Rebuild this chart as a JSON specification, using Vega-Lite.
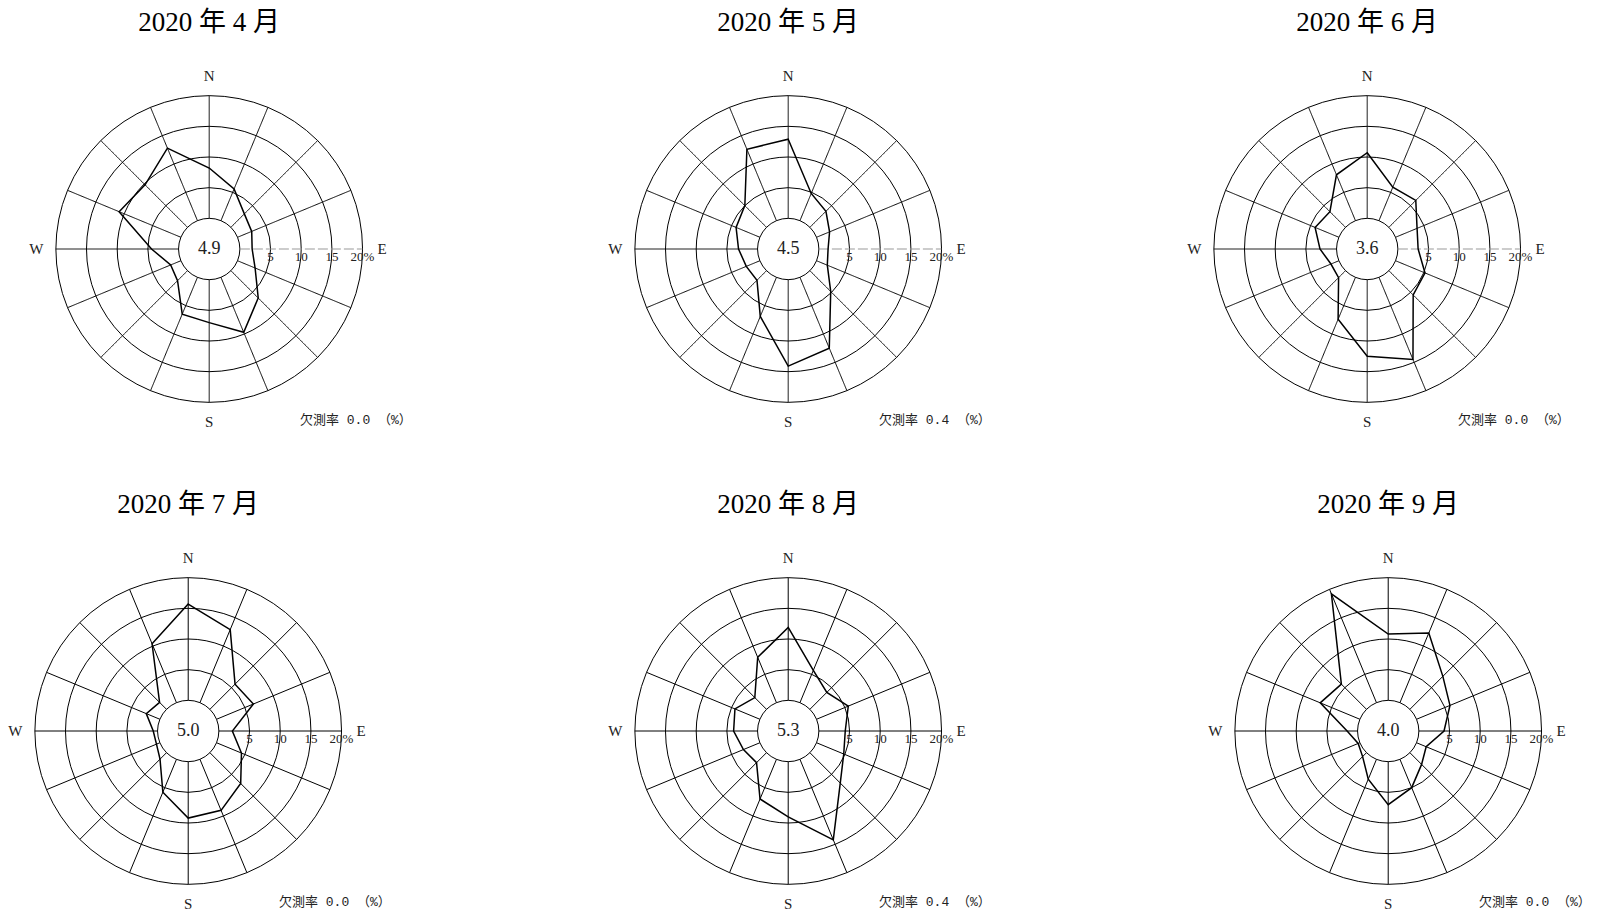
{
  "$schema": "https://vega.github.io/schema/vega-lite/v6.json",
  "padding": {"left": 4, "top": 9, "right": 5, "bottom": 5},
  "background": "white",
  "datasets": {
    "wind": [
      {"m": 4, "d": 0, "v": 8.2}, {"m": 4, "d": 1, "v": 5.6}, {"m": 4, "d": 2, "v": 3.1}, {"m": 4, "d": 3, "v": 2.5},
      {"m": 4, "d": 4, "v": 2.0}, {"m": 4, "d": 5, "v": 3.1}, {"m": 4, "d": 6, "v": 6.3}, {"m": 4, "d": 7, "v": 9.7},
      {"m": 4, "d": 8, "v": 7.0}, {"m": 4, "d": 9, "v": 6.5}, {"m": 4, "d": 10, "v": 2.3}, {"m": 4, "d": 11, "v": 1.8},
      {"m": 4, "d": 12, "v": 4.4}, {"m": 4, "d": 13, "v": 10.9}, {"m": 4, "d": 14, "v": 9.8}, {"m": 4, "d": 15, "v": 12.8},
      {"m": 5, "d": 0, "v": 12.9}, {"m": 5, "d": 1, "v": 4.8}, {"m": 5, "d": 2, "v": 3.7}, {"m": 5, "d": 3, "v": 2.3},
      {"m": 5, "d": 4, "v": 1.5}, {"m": 5, "d": 5, "v": 1.9}, {"m": 5, "d": 6, "v": 4.8}, {"m": 5, "d": 7, "v": 12.5},
      {"m": 5, "d": 8, "v": 14.1}, {"m": 5, "d": 9, "v": 6.9}, {"m": 5, "d": 10, "v": 2.2}, {"m": 5, "d": 11, "v": 2.4},
      {"m": 5, "d": 12, "v": 3.1}, {"m": 5, "d": 13, "v": 4.2}, {"m": 5, "d": 14, "v": 5.0}, {"m": 5, "d": 15, "v": 12.6},
      {"m": 6, "d": 0, "v": 10.7}, {"m": 6, "d": 1, "v": 5.9}, {"m": 6, "d": 2, "v": 6.2}, {"m": 6, "d": 3, "v": 3.8},
      {"m": 6, "d": 4, "v": 3.3}, {"m": 6, "d": 5, "v": 5.2}, {"m": 6, "d": 6, "v": 5.6}, {"m": 6, "d": 7, "v": 14.5},
      {"m": 6, "d": 8, "v": 12.5}, {"m": 6, "d": 9, "v": 7.4}, {"m": 6, "d": 10, "v": 1.6}, {"m": 6, "d": 11, "v": 1.4},
      {"m": 6, "d": 12, "v": 2.7}, {"m": 6, "d": 13, "v": 4.2}, {"m": 6, "d": 14, "v": 3.6}, {"m": 6, "d": 15, "v": 8.1},
      {"m": 7, "d": 0, "v": 15.7}, {"m": 7, "d": 1, "v": 12.9}, {"m": 7, "d": 2, "v": 5.8}, {"m": 7, "d": 3, "v": 6.5},
      {"m": 7, "d": 4, "v": 2.2}, {"m": 7, "d": 5, "v": 4.4}, {"m": 7, "d": 6, "v": 7.1}, {"m": 7, "d": 7, "v": 9.0},
      {"m": 7, "d": 8, "v": 9.2}, {"m": 7, "d": 9, "v": 5.8}, {"m": 7, "d": 10, "v": 1.5}, {"m": 7, "d": 11, "v": 0.6},
      {"m": 7, "d": 12, "v": 0.7}, {"m": 7, "d": 13, "v": 2.4}, {"m": 7, "d": 14, "v": 1.6}, {"m": 7, "d": 15, "v": 10.4},
      {"m": 8, "d": 0, "v": 11.9}, {"m": 8, "d": 1, "v": 5.7}, {"m": 8, "d": 2, "v": 3.9}, {"m": 8, "d": 3, "v": 5.6},
      {"m": 8, "d": 4, "v": 4.3}, {"m": 8, "d": 5, "v": 4.8}, {"m": 8, "d": 6, "v": 7.0}, {"m": 8, "d": 7, "v": 14.2},
      {"m": 8, "d": 8, "v": 9.0}, {"m": 8, "d": 9, "v": 7.0}, {"m": 8, "d": 10, "v": 2.3}, {"m": 8, "d": 11, "v": 2.9},
      {"m": 8, "d": 12, "v": 3.9}, {"m": 8, "d": 13, "v": 4.4}, {"m": 8, "d": 14, "v": 2.7}, {"m": 8, "d": 15, "v": 8.0},
      {"m": 9, "d": 0, "v": 10.8}, {"m": 9, "d": 1, "v": 12.3}, {"m": 9, "d": 2, "v": 7.6}, {"m": 9, "d": 3, "v": 5.9},
      {"m": 9, "d": 4, "v": 4.1}, {"m": 9, "d": 5, "v": 1.7}, {"m": 9, "d": 6, "v": 2.7}, {"m": 9, "d": 7, "v": 5.0},
      {"m": 9, "d": 8, "v": 7.0}, {"m": 9, "d": 9, "v": 3.5}, {"m": 9, "d": 10, "v": 0.9}, {"m": 9, "d": 11, "v": 0.3},
      {"m": 9, "d": 12, "v": 1.7}, {"m": 9, "d": 13, "v": 7.0}, {"m": 9, "d": 14, "v": 5.8}, {"m": 9, "d": 15, "v": 19.2}
    ],
    "info": [
      {"m": 4, "calm": 4.9, "miss": 0.0},
      {"m": 5, "calm": 4.5, "miss": 0.4},
      {"m": 6, "calm": 3.6, "miss": 0.0},
      {"m": 7, "calm": 5.0, "miss": 0.0},
      {"m": 8, "calm": 5.3, "miss": 0.4},
      {"m": 9, "calm": 4.0, "miss": 0.0}
    ],
    "rings": [
      {"r": 5}, {"r": 10, "lab": "5"}, {"r": 15, "lab": "10"}, {"r": 20, "lab": "15"}, {"r": 25, "lab": "20%"}
    ],
    "compass": [
      {"lab": "N", "d": 0}, {"lab": "E", "d": 4}, {"lab": "S", "d": 8}, {"lab": "W", "d": 12}
    ]
  },
  "vconcat": [
    {
      "hconcat": [
        {
          "title": "2020 年 4 月",
          "width": 368, "height": 368,
          "layer": [
            {"data": {"name": "rings"}, "mark": {"type": "arc", "theta": 0, "theta2": 6.2832, "fillOpacity": 0, "stroke": "black", "strokeWidth": 1},
             "encoding": {"x": {"datum": 0, "type": "quantitative", "scale": {"domain": [-30, 30], "nice": false, "zero": false}, "axis": null},
                          "y": {"datum": 0, "type": "quantitative", "scale": {"domain": [-30, 30], "nice": false, "zero": false}, "axis": null},
                          "radius": {"field": "r", "type": "quantitative", "stack": null, "scale": {"type": "linear", "domain": [0, 30], "range": [0, 184]}}}},
            {"data": {"name": "wind"}, "transform": [{"filter": "datum.m == 4"}, {"calculate": "datum.d * PI / 8", "as": "a"}, {"calculate": "5 * sin(datum.a)", "as": "sx"}, {"calculate": "5 * cos(datum.a)", "as": "sy"}, {"calculate": "25 * sin(datum.a)", "as": "sx2"}, {"calculate": "25 * cos(datum.a)", "as": "sy2"}],
             "mark": {"type": "rule", "strokeWidth": 1},
             "encoding": {"x": {"field": "sx", "type": "quantitative"}, "y": {"field": "sy", "type": "quantitative"}, "x2": {"field": "sx2"}, "y2": {"field": "sy2"},
                          "color": {"condition": {"test": "datum.d == 4", "value": "#999"}, "value": "black"},
                          "strokeDash": {"condition": {"test": "datum.d == 4", "value": [10, 3]}, "value": [1, 0]}}},
            {"data": {"name": "wind"}, "transform": [{"filter": "datum.m == 4"}, {"calculate": "datum.d * PI / 8", "as": "a"}, {"calculate": "(datum.v + 5) * sin(datum.a)", "as": "x"}, {"calculate": "(datum.v + 5) * cos(datum.a)", "as": "y"}],
             "mark": {"type": "line", "interpolate": "linear-closed", "color": "black", "strokeWidth": 1.5},
             "encoding": {"x": {"field": "x", "type": "quantitative"}, "y": {"field": "y", "type": "quantitative"}, "order": {"field": "d"}}},
            {"data": {"name": "rings"}, "transform": [{"filter": "datum.lab != null"}], "mark": {"type": "text", "fontSize": 13, "dy": 8, "baseline": "middle"},
             "encoding": {"x": {"field": "r", "type": "quantitative"}, "y": {"datum": 0, "type": "quantitative"}, "text": {"field": "lab"}}},
            {"data": {"name": "compass"}, "transform": [{"calculate": "28.2 * sin(datum.d * PI / 8)", "as": "x"}, {"calculate": "28.2 * cos(datum.d * PI / 8)", "as": "y"}],
             "mark": {"type": "text", "fontSize": 15, "baseline": "middle"},
             "encoding": {"x": {"field": "x", "type": "quantitative"}, "y": {"field": "y", "type": "quantitative"}, "text": {"field": "lab"}}},
            {"data": {"name": "info"}, "transform": [{"filter": "datum.m == 4"}, {"calculate": "'欠測率 ' + format(datum.miss, '.1f') + ' （%）'", "as": "t"}],
             "layer": [
               {"mark": {"type": "text", "fontSize": 18, "baseline": "middle"},
                "encoding": {"x": {"datum": 0, "type": "quantitative"}, "y": {"datum": 0, "type": "quantitative"}, "text": {"field": "calm", "type": "quantitative", "format": ".1f"}}},
               {"mark": {"type": "text", "fontSize": 13, "font": "Liberation Mono, Noto Sans CJK JP", "align": "left", "baseline": "middle"},
                "encoding": {"x": {"datum": 14.8, "type": "quantitative"}, "y": {"datum": -27.8, "type": "quantitative"}, "text": {"field": "t"}}}
             ]}
          ]
        },
        {
          "title": "2020 年 5 月",
          "width": 368, "height": 368,
          "layer": [
            {"data": {"name": "rings"}, "mark": {"type": "arc", "theta": 0, "theta2": 6.2832, "fillOpacity": 0, "stroke": "black", "strokeWidth": 1},
             "encoding": {"x": {"datum": 0, "type": "quantitative", "scale": {"domain": [-30, 30], "nice": false, "zero": false}, "axis": null},
                          "y": {"datum": 0, "type": "quantitative", "scale": {"domain": [-30, 30], "nice": false, "zero": false}, "axis": null},
                          "radius": {"field": "r", "type": "quantitative", "stack": null, "scale": {"type": "linear", "domain": [0, 30], "range": [0, 184]}}}},
            {"data": {"name": "wind"}, "transform": [{"filter": "datum.m == 5"}, {"calculate": "datum.d * PI / 8", "as": "a"}, {"calculate": "5 * sin(datum.a)", "as": "sx"}, {"calculate": "5 * cos(datum.a)", "as": "sy"}, {"calculate": "25 * sin(datum.a)", "as": "sx2"}, {"calculate": "25 * cos(datum.a)", "as": "sy2"}],
             "mark": {"type": "rule", "strokeWidth": 1},
             "encoding": {"x": {"field": "sx", "type": "quantitative"}, "y": {"field": "sy", "type": "quantitative"}, "x2": {"field": "sx2"}, "y2": {"field": "sy2"},
                          "color": {"condition": {"test": "datum.d == 4", "value": "#999"}, "value": "black"},
                          "strokeDash": {"condition": {"test": "datum.d == 4", "value": [10, 3]}, "value": [1, 0]}}},
            {"data": {"name": "wind"}, "transform": [{"filter": "datum.m == 5"}, {"calculate": "datum.d * PI / 8", "as": "a"}, {"calculate": "(datum.v + 5) * sin(datum.a)", "as": "x"}, {"calculate": "(datum.v + 5) * cos(datum.a)", "as": "y"}],
             "mark": {"type": "line", "interpolate": "linear-closed", "color": "black", "strokeWidth": 1.5},
             "encoding": {"x": {"field": "x", "type": "quantitative"}, "y": {"field": "y", "type": "quantitative"}, "order": {"field": "d"}}},
            {"data": {"name": "rings"}, "transform": [{"filter": "datum.lab != null"}], "mark": {"type": "text", "fontSize": 13, "dy": 8, "baseline": "middle"},
             "encoding": {"x": {"field": "r", "type": "quantitative"}, "y": {"datum": 0, "type": "quantitative"}, "text": {"field": "lab"}}},
            {"data": {"name": "compass"}, "transform": [{"calculate": "28.2 * sin(datum.d * PI / 8)", "as": "x"}, {"calculate": "28.2 * cos(datum.d * PI / 8)", "as": "y"}],
             "mark": {"type": "text", "fontSize": 15, "baseline": "middle"},
             "encoding": {"x": {"field": "x", "type": "quantitative"}, "y": {"field": "y", "type": "quantitative"}, "text": {"field": "lab"}}},
            {"data": {"name": "info"}, "transform": [{"filter": "datum.m == 5"}, {"calculate": "'欠測率 ' + format(datum.miss, '.1f') + ' （%）'", "as": "t"}],
             "layer": [
               {"mark": {"type": "text", "fontSize": 18, "baseline": "middle"},
                "encoding": {"x": {"datum": 0, "type": "quantitative"}, "y": {"datum": 0, "type": "quantitative"}, "text": {"field": "calm", "type": "quantitative", "format": ".1f"}}},
               {"mark": {"type": "text", "fontSize": 13, "font": "Liberation Mono, Noto Sans CJK JP", "align": "left", "baseline": "middle"},
                "encoding": {"x": {"datum": 14.8, "type": "quantitative"}, "y": {"datum": -27.8, "type": "quantitative"}, "text": {"field": "t"}}}
             ]}
          ]
        },
        {
          "title": "2020 年 6 月",
          "width": 368, "height": 368,
          "layer": [
            {"data": {"name": "rings"}, "mark": {"type": "arc", "theta": 0, "theta2": 6.2832, "fillOpacity": 0, "stroke": "black", "strokeWidth": 1},
             "encoding": {"x": {"datum": 0, "type": "quantitative", "scale": {"domain": [-30, 30], "nice": false, "zero": false}, "axis": null},
                          "y": {"datum": 0, "type": "quantitative", "scale": {"domain": [-30, 30], "nice": false, "zero": false}, "axis": null},
                          "radius": {"field": "r", "type": "quantitative", "stack": null, "scale": {"type": "linear", "domain": [0, 30], "range": [0, 184]}}}},
            {"data": {"name": "wind"}, "transform": [{"filter": "datum.m == 6"}, {"calculate": "datum.d * PI / 8", "as": "a"}, {"calculate": "5 * sin(datum.a)", "as": "sx"}, {"calculate": "5 * cos(datum.a)", "as": "sy"}, {"calculate": "25 * sin(datum.a)", "as": "sx2"}, {"calculate": "25 * cos(datum.a)", "as": "sy2"}],
             "mark": {"type": "rule", "strokeWidth": 1},
             "encoding": {"x": {"field": "sx", "type": "quantitative"}, "y": {"field": "sy", "type": "quantitative"}, "x2": {"field": "sx2"}, "y2": {"field": "sy2"},
                          "color": {"condition": {"test": "datum.d == 4", "value": "#999"}, "value": "black"},
                          "strokeDash": {"condition": {"test": "datum.d == 4", "value": [10, 3]}, "value": [1, 0]}}},
            {"data": {"name": "wind"}, "transform": [{"filter": "datum.m == 6"}, {"calculate": "datum.d * PI / 8", "as": "a"}, {"calculate": "(datum.v + 5) * sin(datum.a)", "as": "x"}, {"calculate": "(datum.v + 5) * cos(datum.a)", "as": "y"}],
             "mark": {"type": "line", "interpolate": "linear-closed", "color": "black", "strokeWidth": 1.5},
             "encoding": {"x": {"field": "x", "type": "quantitative"}, "y": {"field": "y", "type": "quantitative"}, "order": {"field": "d"}}},
            {"data": {"name": "rings"}, "transform": [{"filter": "datum.lab != null"}], "mark": {"type": "text", "fontSize": 13, "dy": 8, "baseline": "middle"},
             "encoding": {"x": {"field": "r", "type": "quantitative"}, "y": {"datum": 0, "type": "quantitative"}, "text": {"field": "lab"}}},
            {"data": {"name": "compass"}, "transform": [{"calculate": "28.2 * sin(datum.d * PI / 8)", "as": "x"}, {"calculate": "28.2 * cos(datum.d * PI / 8)", "as": "y"}],
             "mark": {"type": "text", "fontSize": 15, "baseline": "middle"},
             "encoding": {"x": {"field": "x", "type": "quantitative"}, "y": {"field": "y", "type": "quantitative"}, "text": {"field": "lab"}}},
            {"data": {"name": "info"}, "transform": [{"filter": "datum.m == 6"}, {"calculate": "'欠測率 ' + format(datum.miss, '.1f') + ' （%）'", "as": "t"}],
             "layer": [
               {"mark": {"type": "text", "fontSize": 18, "baseline": "middle"},
                "encoding": {"x": {"datum": 0, "type": "quantitative"}, "y": {"datum": 0, "type": "quantitative"}, "text": {"field": "calm", "type": "quantitative", "format": ".1f"}}},
               {"mark": {"type": "text", "fontSize": 13, "font": "Liberation Mono, Noto Sans CJK JP", "align": "left", "baseline": "middle"},
                "encoding": {"x": {"datum": 14.8, "type": "quantitative"}, "y": {"datum": -27.8, "type": "quantitative"}, "text": {"field": "t"}}}
             ]}
          ]
        }
      ],
      "spacing": 211,
      "bounds": "flush"
    },
    {
      "hconcat": [
        {
          "title": "2020 年 7 月",
          "width": 368, "height": 368,
          "layer": [
            {"data": {"name": "rings"}, "mark": {"type": "arc", "theta": 0, "theta2": 6.2832, "fillOpacity": 0, "stroke": "black", "strokeWidth": 1},
             "encoding": {"x": {"datum": 0, "type": "quantitative", "scale": {"domain": [-30, 30], "nice": false, "zero": false}, "axis": null},
                          "y": {"datum": 0, "type": "quantitative", "scale": {"domain": [-30, 30], "nice": false, "zero": false}, "axis": null},
                          "radius": {"field": "r", "type": "quantitative", "stack": null, "scale": {"type": "linear", "domain": [0, 30], "range": [0, 184]}}}},
            {"data": {"name": "wind"}, "transform": [{"filter": "datum.m == 7"}, {"calculate": "datum.d * PI / 8", "as": "a"}, {"calculate": "5 * sin(datum.a)", "as": "sx"}, {"calculate": "5 * cos(datum.a)", "as": "sy"}, {"calculate": "25 * sin(datum.a)", "as": "sx2"}, {"calculate": "25 * cos(datum.a)", "as": "sy2"}],
             "mark": {"type": "rule", "strokeWidth": 1, "color": "black"},
             "encoding": {"x": {"field": "sx", "type": "quantitative"}, "y": {"field": "sy", "type": "quantitative"}, "x2": {"field": "sx2"}, "y2": {"field": "sy2"}}},
            {"data": {"name": "wind"}, "transform": [{"filter": "datum.m == 7"}, {"calculate": "datum.d * PI / 8", "as": "a"}, {"calculate": "(datum.v + 5) * sin(datum.a)", "as": "x"}, {"calculate": "(datum.v + 5) * cos(datum.a)", "as": "y"}],
             "mark": {"type": "line", "interpolate": "linear-closed", "color": "black", "strokeWidth": 1.5},
             "encoding": {"x": {"field": "x", "type": "quantitative"}, "y": {"field": "y", "type": "quantitative"}, "order": {"field": "d"}}},
            {"data": {"name": "rings"}, "transform": [{"filter": "datum.lab != null"}], "mark": {"type": "text", "fontSize": 13, "dy": 8, "baseline": "middle"},
             "encoding": {"x": {"field": "r", "type": "quantitative"}, "y": {"datum": 0, "type": "quantitative"}, "text": {"field": "lab"}}},
            {"data": {"name": "compass"}, "transform": [{"calculate": "28.2 * sin(datum.d * PI / 8)", "as": "x"}, {"calculate": "28.2 * cos(datum.d * PI / 8)", "as": "y"}],
             "mark": {"type": "text", "fontSize": 15, "baseline": "middle"},
             "encoding": {"x": {"field": "x", "type": "quantitative"}, "y": {"field": "y", "type": "quantitative"}, "text": {"field": "lab"}}},
            {"data": {"name": "info"}, "transform": [{"filter": "datum.m == 7"}, {"calculate": "'欠測率 ' + format(datum.miss, '.1f') + ' （%）'", "as": "t"}],
             "layer": [
               {"mark": {"type": "text", "fontSize": 18, "baseline": "middle"},
                "encoding": {"x": {"datum": 0, "type": "quantitative"}, "y": {"datum": 0, "type": "quantitative"}, "text": {"field": "calm", "type": "quantitative", "format": ".1f"}}},
               {"mark": {"type": "text", "fontSize": 13, "font": "Liberation Mono, Noto Sans CJK JP", "align": "left", "baseline": "middle"},
                "encoding": {"x": {"datum": 14.8, "type": "quantitative"}, "y": {"datum": -27.8, "type": "quantitative"}, "text": {"field": "t"}}}
             ]}
          ]
        },
        {
          "title": "2020 年 8 月",
          "width": 368, "height": 368,
          "layer": [
            {"data": {"name": "rings"}, "mark": {"type": "arc", "theta": 0, "theta2": 6.2832, "fillOpacity": 0, "stroke": "black", "strokeWidth": 1},
             "encoding": {"x": {"datum": 0, "type": "quantitative", "scale": {"domain": [-30, 30], "nice": false, "zero": false}, "axis": null},
                          "y": {"datum": 0, "type": "quantitative", "scale": {"domain": [-30, 30], "nice": false, "zero": false}, "axis": null},
                          "radius": {"field": "r", "type": "quantitative", "stack": null, "scale": {"type": "linear", "domain": [0, 30], "range": [0, 184]}}}},
            {"data": {"name": "wind"}, "transform": [{"filter": "datum.m == 8"}, {"calculate": "datum.d * PI / 8", "as": "a"}, {"calculate": "5 * sin(datum.a)", "as": "sx"}, {"calculate": "5 * cos(datum.a)", "as": "sy"}, {"calculate": "25 * sin(datum.a)", "as": "sx2"}, {"calculate": "25 * cos(datum.a)", "as": "sy2"}],
             "mark": {"type": "rule", "strokeWidth": 1, "color": "black"},
             "encoding": {"x": {"field": "sx", "type": "quantitative"}, "y": {"field": "sy", "type": "quantitative"}, "x2": {"field": "sx2"}, "y2": {"field": "sy2"}}},
            {"data": {"name": "wind"}, "transform": [{"filter": "datum.m == 8"}, {"calculate": "datum.d * PI / 8", "as": "a"}, {"calculate": "(datum.v + 5) * sin(datum.a)", "as": "x"}, {"calculate": "(datum.v + 5) * cos(datum.a)", "as": "y"}],
             "mark": {"type": "line", "interpolate": "linear-closed", "color": "black", "strokeWidth": 1.5},
             "encoding": {"x": {"field": "x", "type": "quantitative"}, "y": {"field": "y", "type": "quantitative"}, "order": {"field": "d"}}},
            {"data": {"name": "rings"}, "transform": [{"filter": "datum.lab != null"}], "mark": {"type": "text", "fontSize": 13, "dy": 8, "baseline": "middle"},
             "encoding": {"x": {"field": "r", "type": "quantitative"}, "y": {"datum": 0, "type": "quantitative"}, "text": {"field": "lab"}}},
            {"data": {"name": "compass"}, "transform": [{"calculate": "28.2 * sin(datum.d * PI / 8)", "as": "x"}, {"calculate": "28.2 * cos(datum.d * PI / 8)", "as": "y"}],
             "mark": {"type": "text", "fontSize": 15, "baseline": "middle"},
             "encoding": {"x": {"field": "x", "type": "quantitative"}, "y": {"field": "y", "type": "quantitative"}, "text": {"field": "lab"}}},
            {"data": {"name": "info"}, "transform": [{"filter": "datum.m == 8"}, {"calculate": "'欠測率 ' + format(datum.miss, '.1f') + ' （%）'", "as": "t"}],
             "layer": [
               {"mark": {"type": "text", "fontSize": 18, "baseline": "middle"},
                "encoding": {"x": {"datum": 0, "type": "quantitative"}, "y": {"datum": 0, "type": "quantitative"}, "text": {"field": "calm", "type": "quantitative", "format": ".1f"}}},
               {"mark": {"type": "text", "fontSize": 13, "font": "Liberation Mono, Noto Sans CJK JP", "align": "left", "baseline": "middle"},
                "encoding": {"x": {"datum": 14.8, "type": "quantitative"}, "y": {"datum": -27.8, "type": "quantitative"}, "text": {"field": "t"}}}
             ]}
          ]
        },
        {
          "title": "2020 年 9 月",
          "width": 368, "height": 368,
          "layer": [
            {"data": {"name": "rings"}, "mark": {"type": "arc", "theta": 0, "theta2": 6.2832, "fillOpacity": 0, "stroke": "black", "strokeWidth": 1},
             "encoding": {"x": {"datum": 0, "type": "quantitative", "scale": {"domain": [-30, 30], "nice": false, "zero": false}, "axis": null},
                          "y": {"datum": 0, "type": "quantitative", "scale": {"domain": [-30, 30], "nice": false, "zero": false}, "axis": null},
                          "radius": {"field": "r", "type": "quantitative", "stack": null, "scale": {"type": "linear", "domain": [0, 30], "range": [0, 184]}}}},
            {"data": {"name": "wind"}, "transform": [{"filter": "datum.m == 9"}, {"calculate": "datum.d * PI / 8", "as": "a"}, {"calculate": "5 * sin(datum.a)", "as": "sx"}, {"calculate": "5 * cos(datum.a)", "as": "sy"}, {"calculate": "25 * sin(datum.a)", "as": "sx2"}, {"calculate": "25 * cos(datum.a)", "as": "sy2"}],
             "mark": {"type": "rule", "strokeWidth": 1, "color": "black"},
             "encoding": {"x": {"field": "sx", "type": "quantitative"}, "y": {"field": "sy", "type": "quantitative"}, "x2": {"field": "sx2"}, "y2": {"field": "sy2"}}},
            {"data": {"name": "wind"}, "transform": [{"filter": "datum.m == 9"}, {"calculate": "datum.d * PI / 8", "as": "a"}, {"calculate": "(datum.v + 5) * sin(datum.a)", "as": "x"}, {"calculate": "(datum.v + 5) * cos(datum.a)", "as": "y"}],
             "mark": {"type": "line", "interpolate": "linear-closed", "color": "black", "strokeWidth": 1.5},
             "encoding": {"x": {"field": "x", "type": "quantitative"}, "y": {"field": "y", "type": "quantitative"}, "order": {"field": "d"}}},
            {"data": {"name": "rings"}, "transform": [{"filter": "datum.lab != null"}], "mark": {"type": "text", "fontSize": 13, "dy": 8, "baseline": "middle"},
             "encoding": {"x": {"field": "r", "type": "quantitative"}, "y": {"datum": 0, "type": "quantitative"}, "text": {"field": "lab"}}},
            {"data": {"name": "compass"}, "transform": [{"calculate": "28.2 * sin(datum.d * PI / 8)", "as": "x"}, {"calculate": "28.2 * cos(datum.d * PI / 8)", "as": "y"}],
             "mark": {"type": "text", "fontSize": 15, "baseline": "middle"},
             "encoding": {"x": {"field": "x", "type": "quantitative"}, "y": {"field": "y", "type": "quantitative"}, "text": {"field": "lab"}}},
            {"data": {"name": "info"}, "transform": [{"filter": "datum.m == 9"}, {"calculate": "'欠測率 ' + format(datum.miss, '.1f') + ' （%）'", "as": "t"}],
             "layer": [
               {"mark": {"type": "text", "fontSize": 18, "baseline": "middle"},
                "encoding": {"x": {"datum": 0, "type": "quantitative"}, "y": {"datum": 0, "type": "quantitative"}, "text": {"field": "calm", "type": "quantitative", "format": ".1f"}}},
               {"mark": {"type": "text", "fontSize": 13, "font": "Liberation Mono, Noto Sans CJK JP", "align": "left", "baseline": "middle"},
                "encoding": {"x": {"datum": 14.8, "type": "quantitative"}, "y": {"datum": -27.8, "type": "quantitative"}, "text": {"field": "t"}}}
             ]}
          ]
        }
      ],
      "spacing": 232,
      "bounds": "flush"
    }
  ],
  "spacing": 58,
  "center": true,
  "config": {
    "view": {"stroke": null},
    "font": "Liberation Serif, Noto Sans CJK JP",
    "title": {"fontSize": 27, "fontWeight": "normal", "color": "black", "baseline": "alphabetic", "offset": 28},
    "text": {"color": "#222"}
  }
}
